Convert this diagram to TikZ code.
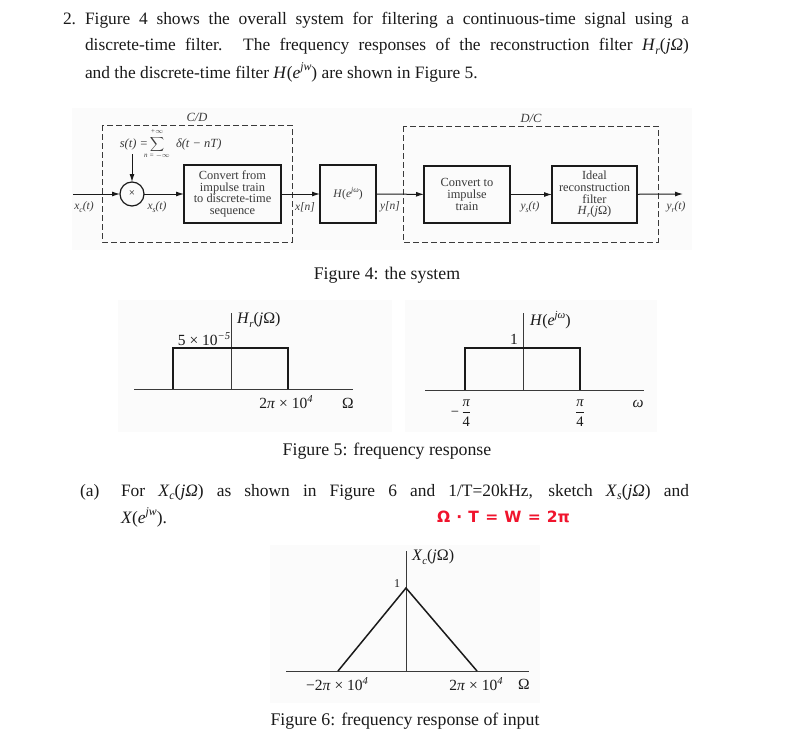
\documentclass[tikz,border=0pt]{standalone}
\usepackage{graphicx}
\usepackage{fontspec}
\setmainfont{Liberation Serif}
\newfontfamily\penfont{DejaVu Sans}
\usetikzlibrary{arrows.meta}
\definecolor{ink}{HTML}{1A1A1A}
\definecolor{grayink}{HTML}{3A3A3A}
\definecolor{panel}{HTML}{FBFBFB}
\definecolor{redpen}{HTML}{F0142D}
\newcommand{\fitline}[2]{\makebox[#1][s]{#2}}
\newcommand{\lowidx}[1]{\raisebox{-.22em}{\scalebox{.68}{\itshape #1}}}
\newcommand{\upidx}[1]{\raisebox{.42em}{\scalebox{.68}{\itshape #1}}}
\newcommand{\var}[1]{\textit{#1}}
\newcommand{\fracpi}{$\displaystyle\frac{\mbox{\itshape π}}{\mbox{4}}$}
\tikzset{
  x=1pt,y=-1pt,
  every node/.style={inner sep=0pt,outer sep=0pt,text=ink},
  body/.style={anchor=base west,font=\fontsize{17.4}{20}\selectfont},
  caption/.style={anchor=base,font=\fontsize{17.8}{20}\selectfont},
  blockbox/.style={draw=ink,line width=1.2pt,align=center,font=\fontsize{12.4}{11.7}\selectfont,text=grayink},
  dashbox/.style={draw=grayink,line width=.7pt,dash pattern=on 6pt off 3pt},
  sig/.style={draw=ink,line width=1pt,-{Latex[length=8pt,width=5pt]}},
  siglabel/.style={font=\fontsize{12.5}{12.5}\selectfont\itshape,text=grayink},
  tinylabel/.style={font=\fontsize{7}{7}\selectfont\itshape,text=grayink},
  axisline/.style={draw=grayink,line width=.7pt},
  resp/.style={draw=ink,line width=1.5pt,line join=miter},
  plotlabel/.style={font=\fontsize{15.5}{15.5}\selectfont,text=ink},
  titlelabel/.style={anchor=west,font=\fontsize{16}{16}\selectfont,text=ink},
}
\begin{document}
\begin{tikzpicture}
\useasboundingbox (0,0) rectangle (789,728);
\fill[white] (0,0) rectangle (789,728);
% faint scan panels
\fill[panel] (72,108) rectangle (692,250);
\fill[panel] (118,300) rectangle (392,432);
\fill[panel] (405,300) rectangle (657,432);
\fill[panel] (270,545) rectangle (540,703);
% text
\node[body] (q) at (63,24) {2.};
\node[body] (l1) at (85,24) {\fitline{604pt}{Figure 4 shows the overall system for filtering a continuous-time signal using a}};
\node[body] (l2) at (85,50.5) {\fitline{604pt}{discrete-time filter. The frequency responses of the reconstruction filter \var{H}\lowidx{r}(\var{j}\var{Ω})}};
\node[body] (l3) at (85,78) {and the discrete-time filter \var{H}(\var{e}\upidx{jw}) are shown in Figure 5.};
% figure 4
\node[font=\fontsize{12.5}{12.5}\selectfont\itshape,text=grayink] (cdl) at (197,117) {C/D};
\node[font=\fontsize{12.5}{12.5}\selectfont\itshape,text=grayink] (dcl) at (531,118) {D/C};
\draw[dashbox] (102,125) rectangle (292,242);
\draw[dashbox] (403,126) rectangle (658,242);
\node[circle,draw=ink,line width=1.2pt,minimum size=24pt,font=\fontsize{11}{11}\selectfont] (mul) at (132,194) {×};
\node[blockbox,minimum width=97pt,minimum height=58pt] (conv) at (232.5,194) {Convert from\\impulse train\\to discrete-time\\sequence};
\node[blockbox,minimum width=56pt,minimum height=58pt,font=\fontsize{11.5}{11.5}\selectfont] (hd) at (348,194) {\var{H}(\var{e}\upidx{jω})};
\node[blockbox,minimum width=86pt,minimum height=57pt] (ci) at (467,194.5) {Convert to\\impulse\\train};
\node[blockbox,minimum width=85pt,minimum height=57pt] (ideal) at (594.5,194.5) {Ideal\\reconstruction\\filter\\\var{H}\lowidx{r}(\var{j}Ω)};
\coordinate (in) at (73,194);
\coordinate (out) at (683,194);
\node[siglabel,anchor=east] (st) at (148,144) {s(t) =};
\node[font=\fontsize{11}{11}\selectfont,text=grayink] (sumsym) at (157,144) {$\displaystyle\sum$};
\node[tinylabel] (supsym) at (157,131.5) {+$\infty$};
\node[tinylabel] (subsym) at (157,155.5) {n = $-\infty$};
\node[siglabel,anchor=west] (dl) at (176,144) {δ(t − nT)};
\coordinate (stb) at (132,154);
\draw[sig] (stb) -- (mul);
\draw[sig] (in) -- (mul);
\draw[sig] (mul) -- (conv);
\draw[sig] (conv) -- (hd);
\draw[sig] (hd) -- (ci);
\draw[sig] (ci) -- (ideal);
\draw[sig] (ideal) -- (out);
\node[siglabel,font=\fontsize{11.5}{11.5}\selectfont\itshape] (xc) at (84,207) {x\lowidx{c}(t)};
\node[siglabel,font=\fontsize{11.5}{11.5}\selectfont\itshape] (xs) at (157,207) {x\lowidx{s}(t)};
\node[siglabel,font=\fontsize{11.5}{11.5}\selectfont\itshape] (xn) at (305,207) {x[n]};
\node[siglabel,font=\fontsize{11.5}{11.5}\selectfont\itshape] (yn) at (390,207) {y[n]};
\node[siglabel,font=\fontsize{11.5}{11.5}\selectfont\itshape] (ys) at (530,207) {y\lowidx{s}(t)};
\node[siglabel,font=\fontsize{11.5}{11.5}\selectfont\itshape] (yr) at (676,207) {y\lowidx{r}(t)};
\node[caption] (c4) at (387,279) {Figure 4: the system};
% figure 5 left
\coordinate (la) at (134,389); \coordinate (lb) at (353,389);
\coordinate (lv1) at (231,313); \coordinate (lv0) at (231,389);
\draw[axisline] (la) -- (lb);
\draw[axisline] (lv1) -- (lv0);
\draw[resp] (173,389) -- (173,348) -- (288,348) -- (288,389);
\node[titlelabel] (hr) at (237,320) {\var{H}\lowidx{r}(\var{j}Ω)};
\node[plotlabel] (h5) at (204,339) {5 × 10\upidx{−5}};
\node[plotlabel] (w1) at (286,402) {2\var{π} × 10\upidx{4}};
\node[plotlabel] (om1) at (348,403) {Ω};
% figure 5 right
\coordinate (ra) at (425,390); \coordinate (rb) at (644,390);
\coordinate (rv1) at (523,313); \coordinate (rv0) at (523,390);
\draw[axisline] (ra) -- (rb);
\draw[axisline] (rv1) -- (rv0);
\draw[resp] (465,390) -- (465,348) -- (580,348) -- (580,390);
\node[titlelabel] (hej) at (530,320) {\var{H}(\var{e}\upidx{jω})};
\node[plotlabel] (one) at (514,339) {1};
\node[plotlabel,font=\fontsize{14.5}{14.5}\selectfont] (mpi) at (461,413) {−\,\fracpi};
\node[plotlabel,font=\fontsize{14.5}{14.5}\selectfont] (ppi) at (580,413) {\fracpi};
\node[plotlabel] (om2) at (638,404) {\var{ω}};
\node[caption] (c5) at (387,455) {Figure 5: frequency response};
% question (a)
\node[body] (a) at (80,496) {(a)};
\node[body] (a1) at (121,496) {\fitline{568pt}{For \var{X}\lowidx{c}(\var{j}\var{Ω}) as shown in Figure 6 and 1/T=20kHz, sketch \var{X}\lowidx{s}(\var{j}\var{Ω}) and}};
\node[body] (a2) at (121,523) {\var{X}(\var{e}\upidx{jw}).};
\node[anchor=base west,font=\fontsize{15.5}{16}\penfont\bfseries,text=redpen] (red) at (437,522) {\fitline{133pt}{Ω · T = W = 2π}};
% figure 6
\coordinate (xa) at (286,671); \coordinate (xb) at (529,671);
\coordinate (xv1) at (406,551); \coordinate (xv0) at (406,671);
\draw[axisline] (xa) -- (xb);
\draw[axisline] (xv1) -- (xv0);
\draw[resp] (338,671) -- (406,588) -- (477,671);
\node[titlelabel] (xcl) at (412,557) {\var{X}\lowidx{c}(\var{j}Ω)};
\node[plotlabel,font=\fontsize{12}{12}\selectfont] (x1) at (397,584) {1};
\node[plotlabel] (xm) at (337,684) {−2\var{π} × 10\upidx{4}};
\node[plotlabel] (xp) at (476,684) {2\var{π} × 10\upidx{4}};
\node[plotlabel] (xo) at (524,684) {Ω};
\node[caption] (c6) at (405,725) {Figure 6: frequency response of input};
\end{tikzpicture}
\end{document}
